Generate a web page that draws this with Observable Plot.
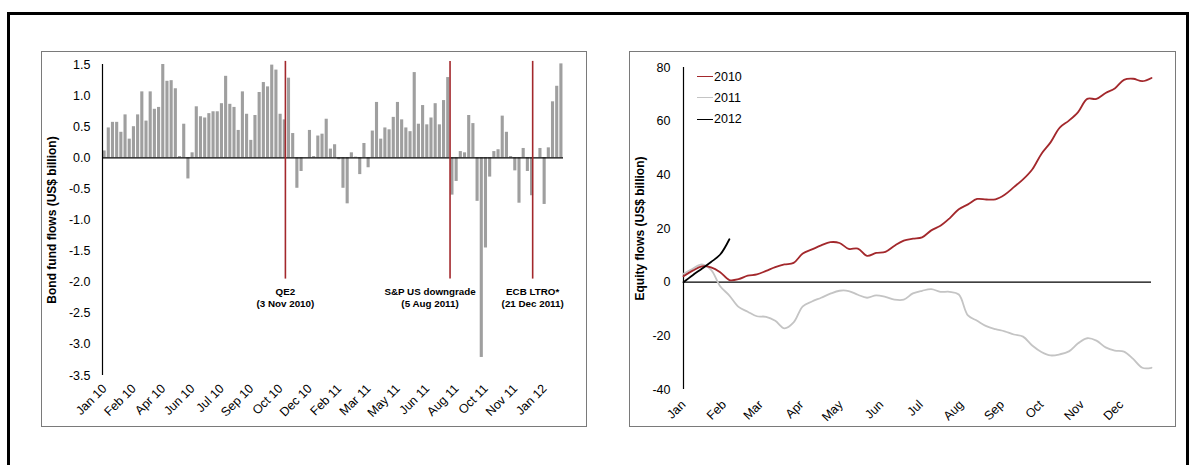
<!DOCTYPE html>
<html>
<head>
<meta charset="utf-8">
<script src="https://cdn.jsdelivr.net/npm/d3@7"></script>
<script src="https://cdn.jsdelivr.net/npm/@observablehq/plot@0.6"></script>
<style>
  html, body { margin: 0; padding: 0; background: #fff; }
  body { width: 1195px; height: 465px; position: relative; overflow: hidden;
         font-family: "Liberation Sans", Arial, sans-serif; }
  .outer { position: absolute; left: 7px; top: 12px; width: 1182px; height: 500px;
           border: 3px solid #000; box-sizing: border-box; }
  .panel { position: absolute; box-sizing: border-box; border: 1px solid #7a7a7a; }
  .chart { position: absolute; }
  .legend { position: absolute; font-size: 12.5px; color: #000; }
  .legend .item { display: flex; align-items: center; height: 21.3px; }
  .legend .swatch { width: 16px; height: 0; border-top: 1.8px solid; margin-right: 1px; }
</style>
</head>
<body>
<div class="outer"></div>
<div class="panel" style="left:41px; top:51px; width:546px; height:376px;"></div>
<div class="panel" style="left:629px; top:51px; width:547px; height:376px;"></div>
<div id="bond" class="chart" style="left:41px; top:51px;"></div>
<div id="equity" class="chart" style="left:629px; top:51px;"></div>
<div id="legend" class="legend" style="left:697px; top:66px;"></div>
<script>
// Weekly bond fund flows, US$ billion, one value per week from the week of 5 Jan 2010
const bondStart = "2010-01-05";
const bondFlows = [
  0.11, 0.48, 0.57, 0.57, 0.41, 0.69, 0.30, 0.50, 0.69, 1.06,
  0.59, 1.06, 0.78, 0.81, 1.50, 1.23, 1.24, 1.11, 0.02, 0.54,
  -0.34, 0.08, 0.82, 0.66, 0.64, 0.71, 0.74, 0.74, 0.87, 1.31,
  0.86, 0.81, 0.44, 1.06, 0.70, 0.28, 0.68, 1.05, 1.21, 1.14,
  1.49, 1.41, 0.70, 0.61, 1.28, 0.39, -0.49, -0.22, 0.00, 0.44,
  0.02, 0.35, 0.38, 0.62, 0.14, 0.21, -0.03, -0.49, -0.74, 0.08,
  0.01, -0.27, 0.23, -0.16, 0.43, 0.89, 0.30, 0.48, 0.45, 0.65,
  0.89, 0.61, 0.48, 0.42, 1.37, 0.54, 0.84, 0.53, 0.64, 0.87,
  0.53, 0.92, 1.29, -0.60, -0.38, 0.10, 0.08, 0.68, 0.55, -0.70,
  -3.21, -1.45, -0.31, 0.10, 0.13, 0.67, 0.41, 0.02, -0.21, -0.73,
  0.15, -0.22, -0.61, 0.00, 0.15, -0.75, 0.16, 0.90, 1.15, 1.51
];
const bondTicks = [-3.5, -3.0, -2.5, -2.0, -1.5, -1.0, -0.5, 0.0, 0.5, 1.0, 1.5];

// Policy events marked on the bond chart
const eventDates = ["2010-11-03", "2011-08-05", "2011-12-21"];
const eventNames = ["QE2", "S&P US downgrade", "ECB LTRO*"];
const eventWhen = ["(3 Nov 2010)", "(5 Aug 2011)", "(21 Dec 2011)"];

// Cumulative equity fund flows, US$ billion, weekly from the start of each year
const equity2010 = [
  2.2, 4.3, 5.9, 5.5, 3.7, 0.8, 1.1, 2.4, 2.9, 4.2,
  5.6, 6.6, 7.2, 10.7, 12.2, 13.7, 14.9, 14.6, 12.4, 12.5,
  9.8, 10.9, 11.3, 13.6, 15.5, 16.2, 16.7, 19.3, 21.0, 23.8,
  27.2, 29.0, 31.0, 30.8, 30.9, 32.6, 35.4, 38.3, 42.0, 47.8,
  52.1, 57.6, 60.2, 63.4, 68.3, 68.3, 70.5, 72.2, 75.4, 75.8,
  74.9, 76.1
];
const equity2011 = [
  3.1, 5.0, 6.6, 4.6, -1.5, -5.0, -9.2, -11.0, -12.7, -12.9,
  -14.4, -17.2, -15.0, -9.0, -7.2, -5.8, -4.3, -3.2, -3.3, -4.7,
  -5.8, -4.9, -5.5, -6.5, -6.5, -4.2, -3.2, -2.6, -3.6, -3.6,
  -4.6, -12.4, -14.4, -16.4, -17.5, -18.3, -19.5, -20.3, -23.6, -26.0,
  -27.3, -26.9, -25.8, -22.8, -20.9, -21.8, -24.3, -25.5, -25.9, -28.6,
  -31.9, -31.9
];
const equity2012 = [0.0, 2.6, 5.0, 7.5, 10.3, 16.0];
const equityYears = ["2010", "2011", "2012"];
const equityTicks = [-40, -20, 0, 20, 40, 60, 80];
const monthNames = ["Jan", "Feb", "Mar", "Apr", "May", "Jun", "Jul", "Aug", "Sep", "Oct", "Nov", "Dec"];

const DAY = 864e5;
const FONT = '"Liberation Sans", Arial, sans-serif';
const RED = "#a3282c";

// ---------- bond fund flows ----------
const t0 = new Date(bondStart + "T00:00:00Z");
const bond = bondFlows.map((value, i) => ({date: new Date(+t0 + i * 7 * DAY), value}));
const bondTickDates = bond.filter((d, i) => i % 7 === 0).map(d => d.date);
const events = eventDates.map((d, i) => ({date: new Date(d + "T00:00:00Z"), name: eventNames[i], when: eventWhen[i]}));
const bondX0 = new Date(+bond[0].date - 3.5 * DAY);
const bondX1 = new Date(+bond[bond.length - 1].date + 3.5 * DAY);

const bondChart = Plot.plot({
  width: 545, height: 375,
  marginLeft: 61, marginRight: 23, marginTop: 13, marginBottom: 51,
  style: {fontFamily: FONT, fontSize: "12.5px", color: "#000", background: "transparent", overflow: "visible"},
  x: {type: "utc", domain: [bondX0, bondX1]},
  y: {domain: [-3.5, 1.5]},
  marks: [
    Plot.rectY(bond, {
      x1: d => new Date(+d.date - 2.6 * DAY),
      x2: d => new Date(+d.date + 2.6 * DAY),
      y1: 0, y2: "value", fill: "#9f9f9f"
    }),
    Plot.ruleY([0], {stroke: "#000", strokeWidth: 1.3}),
    Plot.ruleX([bondX0], {y1: -3.5, y2: 1.5, stroke: "#000", strokeWidth: 1.2}),
    Plot.ruleX(events, {x: "date", y1: -1.95, y2: 1.55, stroke: RED, strokeWidth: 1.6}),
    Plot.text(events.filter(d => !d.name.startsWith("S&P")), {
      x: "date", y: -1.95, text: d => d.name + "\n" + d.when,
      lineAnchor: "top", dy: 7, lineHeight: 1.25, fontSize: 9.8, fontWeight: "bold"
    }),
    Plot.text(events.filter(d => d.name.startsWith("S&P")), {
      x: "date", y: -1.95, text: d => d.name + "\n" + d.when,
      lineAnchor: "top", dy: 7, dx: -20, lineHeight: 1.25, fontSize: 9.8, fontWeight: "bold"
    }),
    Plot.axisY({ticks: bondTicks, tickSize: 0, tickPadding: 12, tickFormat: d => d.toFixed(1), label: null}),
    Plot.axisX({ticks: bondTickDates, tickFormat: d3.utcFormat("%b %y"), tickSize: 0, tickRotate: -45, tickPadding: 11, label: null}),
    Plot.text(["Bond fund flows (US$ billion)"], {
      frameAnchor: "left", textAnchor: "middle", rotate: -90, dx: -50, fontWeight: "bold", fontSize: 12
    })
  ]
});
document.getElementById("bond").append(bondChart);

// ---------- cumulative equity flows ----------
const yearStart = Date.UTC(2010, 0, 1);
const weekDate = i => new Date(yearStart + i * 7 * DAY);
const toRows = arr => arr.map((value, i) => ({date: weekDate(i), value}));
const series = [
  {year: equityYears[0], rows: toRows(equity2010), color: RED},
  {year: equityYears[1], rows: toRows(equity2011), color: "#c4c4c4"},
  {year: equityYears[2], rows: toRows(equity2012), color: "#000"}
];
const monthTicks = monthNames.map((m, i) => new Date(Date.UTC(2010, i, 1)));

const equityChart = Plot.plot({
  width: 546, height: 375,
  marginLeft: 54, marginRight: 24, marginTop: 16, marginBottom: 37,
  style: {fontFamily: FONT, fontSize: "12.5px", color: "#000", background: "transparent", overflow: "visible"},
  x: {type: "utc", domain: [weekDate(0), weekDate(51)]},
  y: {domain: [-40, 80]},
  marks: [
    Plot.ruleX([weekDate(0)], {y1: -40, y2: 80, stroke: "#000", strokeWidth: 1.2}),
    Plot.ruleY([0], {stroke: "#000", strokeWidth: 1.2}),
    ...[series[1], series[0], series[2]].map(s =>
      Plot.line(s.rows, {x: "date", y: "value", stroke: s.color, strokeWidth: 1.8, curve: "catmull-rom"})
    ),
    Plot.axisY({ticks: equityTicks, tickSize: 0, tickPadding: 13, tickFormat: d => String(d), label: null}),
    Plot.axisX({ticks: monthTicks, tickFormat: d => monthNames[d.getUTCMonth()], tickSize: 0, tickRotate: -45, tickPadding: 13, label: null}),
    Plot.text(["Equity flows (US$ billion)"], {
      frameAnchor: "left", textAnchor: "middle", rotate: -90, dx: -43, fontWeight: "bold", fontSize: 12
    })
  ]
});
document.getElementById("equity").append(equityChart);

// legend
const legend = document.getElementById("legend");
for (const s of series) {
  const item = document.createElement("div");
  item.className = "item";
  const sw = document.createElement("span");
  sw.className = "swatch";
  sw.style.borderTopColor = s.color;
  const label = document.createElement("span");
  label.textContent = s.year;
  item.append(sw, label);
  legend.append(item);
}
</script>
</body>
</html>
